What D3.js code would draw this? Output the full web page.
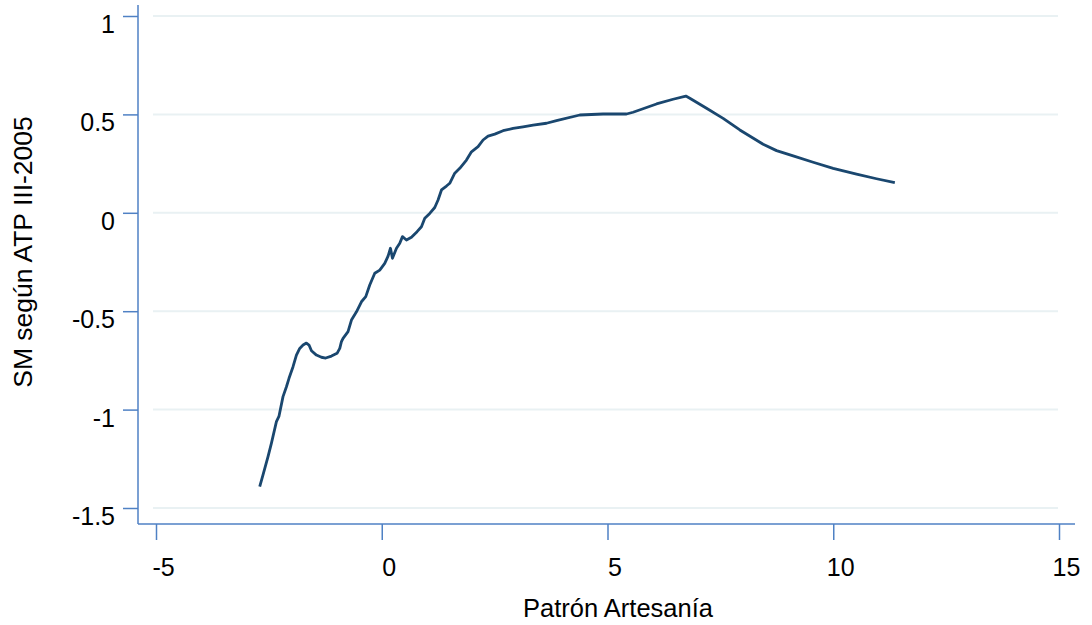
<!DOCTYPE html>
<html>
<head>
<meta charset="utf-8">
<script src="https://cdn.jsdelivr.net/npm/d3@7"></script>
<style>
  body { margin: 0; background: #fff; }
  text { font-family: "Liberation Sans", Arial, sans-serif; fill: #000; }
</style>
</head>
<body>
<svg id="chart" width="1092" height="625"></svg>
<script>
// lowess curve
const xs = [-2.703, -2.630, -2.519, -2.443, -2.333, -2.275, -2.187, -2.111, -2.054, -1.965,
  -1.890, -1.817, -1.743, -1.668, -1.611, -1.557, -1.447, -1.336, -1.241, -1.114,
  -0.990, -0.930, -0.893, -0.857, -0.747, -0.671, -0.560, -0.450, -0.354, -0.266,
  -0.155, -0.044, 0.066, 0.140, 0.193, 0.237, 0.326, 0.399, 0.459, 0.547,
  0.658, 0.782, 0.879, 0.953, 1.063, 1.174, 1.247, 1.323, 1.433, 1.506,
  1.617, 1.728, 1.876, 1.987, 2.133, 2.244, 2.355, 2.503, 2.687, 2.909,
  3.130, 3.352, 3.649, 3.870, 4.386, 4.902, 5.421, 5.567, 6.085, 6.453,
  6.735, 6.823, 7.193, 7.561, 7.931, 8.447, 8.744, 9.112, 9.555, 9.998,
  10.516, 10.959, 11.364];
const ys = [-1.392, -1.332, -1.239, -1.170, -1.061, -1.033, -0.934, -0.884, -0.841, -0.782,
  -0.723, -0.689, -0.672, -0.662, -0.672, -0.701, -0.723, -0.734, -0.738, -0.728,
  -0.714, -0.689, -0.655, -0.638, -0.604, -0.545, -0.503, -0.452, -0.426, -0.367,
  -0.307, -0.291, -0.257, -0.220, -0.180, -0.231, -0.180, -0.155, -0.121, -0.138,
  -0.124, -0.096, -0.071, -0.028, -0.003, 0.027, 0.065, 0.116, 0.136, 0.150,
  0.201, 0.226, 0.268, 0.310, 0.336, 0.370, 0.390, 0.400, 0.417, 0.429,
  0.437, 0.446, 0.455, 0.468, 0.497, 0.502, 0.502, 0.511, 0.553, 0.577,
  0.593, 0.582, 0.531, 0.480, 0.421, 0.348, 0.316, 0.289, 0.257, 0.226,
  0.197, 0.173, 0.153];
const xTicks = [-5, 0, 5, 10, 15];
const yTicks = [-1.5, -1, -0.5, 0, 0.5, 1];
const xTitle = "Patrón Artesanía";
const yTitle = "SM según ATP III-2005";

const axisColor = "#4f81c4";
const svg = d3.select("#chart");

const x = d3.scaleLinear().domain([-5, 15]).range([156, 1059]);
const y = d3.scaleLinear().domain([-1.5, 1]).range([508, 16]);

const axisX = 138, axisY = 524;

// gridlines
svg.append("g")
  .selectAll("line")
  .data(yTicks)
  .enter()
  .append("line")
  .attr("x1", 153)
  .attr("x2", 1058)
  .attr("y1", d => y(d))
  .attr("y2", d => y(d))
  .attr("stroke", "#e9f1f3")
  .attr("stroke-width", 2);

// Y axis
const gy = svg.append("g")
  .attr("transform", "translate(" + axisX + ",0)")
  .call(d3.axisLeft(y).tickValues(yTicks).tickSize(15).tickPadding(8));
gy.select(".domain").remove();
gy.selectAll("line").attr("stroke", axisColor).attr("stroke-width", 1.5);
gy.selectAll("text")
  .attr("font-size", 25)
  .attr("dy", "0.66em")
  .attr("font-family", "Liberation Sans, Arial, sans-serif")
  .text(d => d < 0 ? "-" + Math.abs(d) : d);

// X axis
const gx = svg.append("g")
  .attr("transform", "translate(0," + axisY + ")")
  .call(d3.axisBottom(x).tickValues(xTicks).tickSize(16).tickPadding(18));
gx.select(".domain").remove();
gx.selectAll("line").attr("stroke", axisColor).attr("stroke-width", 1.5);
gx.selectAll("text")
  .attr("font-size", 25)
  .attr("dx", 7)
  .attr("font-family", "Liberation Sans, Arial, sans-serif")
  .text(d => d < 0 ? "-" + Math.abs(d) : d);

// axis lines, running past the plot region
svg.append("line")
  .attr("x1", axisX).attr("x2", axisX)
  .attr("y1", 5).attr("y2", axisY)
  .attr("stroke", axisColor).attr("stroke-width", 1.5);
svg.append("line")
  .attr("x1", axisX).attr("x2", 1075)
  .attr("y1", axisY).attr("y2", axisY)
  .attr("stroke", axisColor).attr("stroke-width", 1.5);

// the curve
const line = d3.line()
  .x(d => x(d[0]))
  .y(d => y(d[1]));
svg.append("path")
  .datum(xs.map((v, i) => [v, ys[i]]))
  .attr("d", line)
  .attr("fill", "none")
  .attr("stroke", "#1a476f")
  .attr("stroke-width", 2.8)
  .attr("stroke-linejoin", "round");

// titles
svg.append("text")
  .attr("x", 618)
  .attr("y", 617)
  .attr("text-anchor", "middle")
  .attr("font-size", 25.5)
  .text(xTitle);

svg.append("text")
  .attr("transform", "translate(32,252) rotate(-90)")
  .attr("text-anchor", "middle")
  .attr("font-size", 26.5)
  .text(yTitle);
</script>
</body>
</html>
